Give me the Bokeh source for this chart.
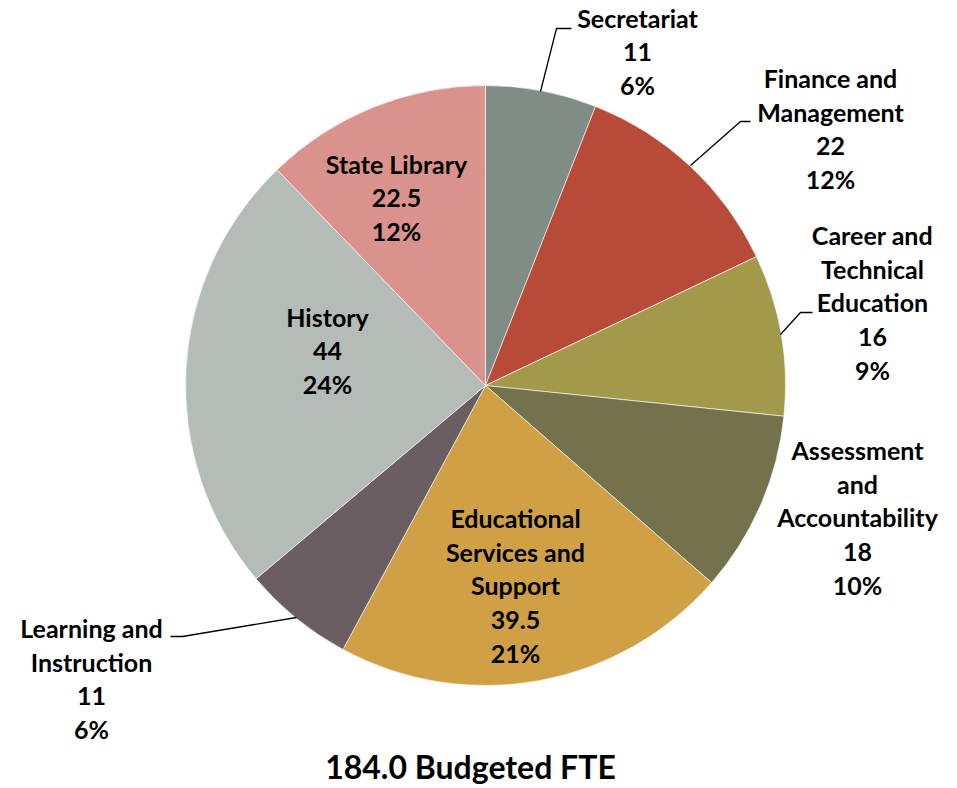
import math
from bokeh.plotting import figure
from bokeh.models import Range1d, ColumnDataSource
from bokeh.core.properties import value
from bokeh.embed import file_html
from bokeh.resources import INLINE

# ---- data ----
categories = ["Secretariat", "Finance and Management", "Career and Technical Education",
              "Assessment and Accountability", "Educational Services and Support",
              "Learning and Instruction", "History", "State Library"]
fte = [11, 22, 16, 18, 39.5, 11, 44, 22.5]
value_labels = ["11", "22", "16", "18", "39.5", "11", "44", "22.5"]
label_lines = ["Secretariat", "Finance and\nManagement", "Career and\nTechnical\nEducation",
               "Assessment\nand\nAccountability", "Educational\nServices and\nSupport",
               "Learning and\nInstruction", "History", "State Library"]
title_text = "184.0 Budgeted FTE"

# ---- styles / layout ----
colors = ["#7F8D84", "#B84B37", "#A29A4A", "#74714D", "#CFA046", "#6B5E63", "#B5BBB7", "#DA938C"]
W, H = 957, 788
def Y(img_y):
    return H - img_y
cx, cy, R = 485, Y(385), 300
# label block centres (image px)
label_pos = [(637, 51), (830, 128), (872, 302), (857, 517), (515, 585), (91, 678), (327, 350), (396, 197)]
# leader lines (image px)
leaders = [
    [(540, 91), (556, 28), (571, 28)],
    [(690, 165), (740, 121), (750, 121)],
    [(780, 334), (800, 312), (812, 312)],
    [(296, 617), (182, 636), (170, 636)],
]

total = sum(fte)
pcts = [f"{round(v / total * 100)}%" for v in fte]
starts, ends = [], []
a = math.pi / 2
for v in fte:
    starts.append(a)
    a -= v / total * 2 * math.pi
    ends.append(a)

p = figure(width=W, height=H, output_backend="svg", toolbar_location=None,
           x_range=Range1d(0, W), y_range=Range1d(0, H),
           min_border=0, outline_line_color=None, background_fill_color="white",
           border_fill_color="white")
p.axis.visible = False
p.grid.visible = False

src = ColumnDataSource(dict(s=starts, e=ends, c=colors))
p.wedge(x=cx, y=cy, radius=R, start_angle="e", end_angle="s", fill_color="c",
        line_color="white", line_width=0.6, source=src)

for pts in leaders:
    p.line([q[0] for q in pts], [Y(q[1]) for q in pts], line_color="black", line_width=1.3)

texts = [f"{l}\n{v}\n{pc}" for l, v, pc in zip(label_lines, value_labels, pcts)]
tsrc = ColumnDataSource(dict(x=[q[0] for q in label_pos], y=[Y(q[1]) for q in label_pos], t=texts))
p.text(x="x", y="y", text="t", source=tsrc, text_font=value("Lato"), text_font_style="bold",
       text_font_size="25px", text_align="center", text_baseline="middle",
       text_line_height=1.12, text_color="black")

p.text(x=[470], y=[Y(766)], text=[title_text], text_font=value("Lato"), text_font_style="bold",
       text_font_size="32px", text_align="center", text_baseline="middle", text_color="black")

open("out.html", "w").write(file_html(p, INLINE))
